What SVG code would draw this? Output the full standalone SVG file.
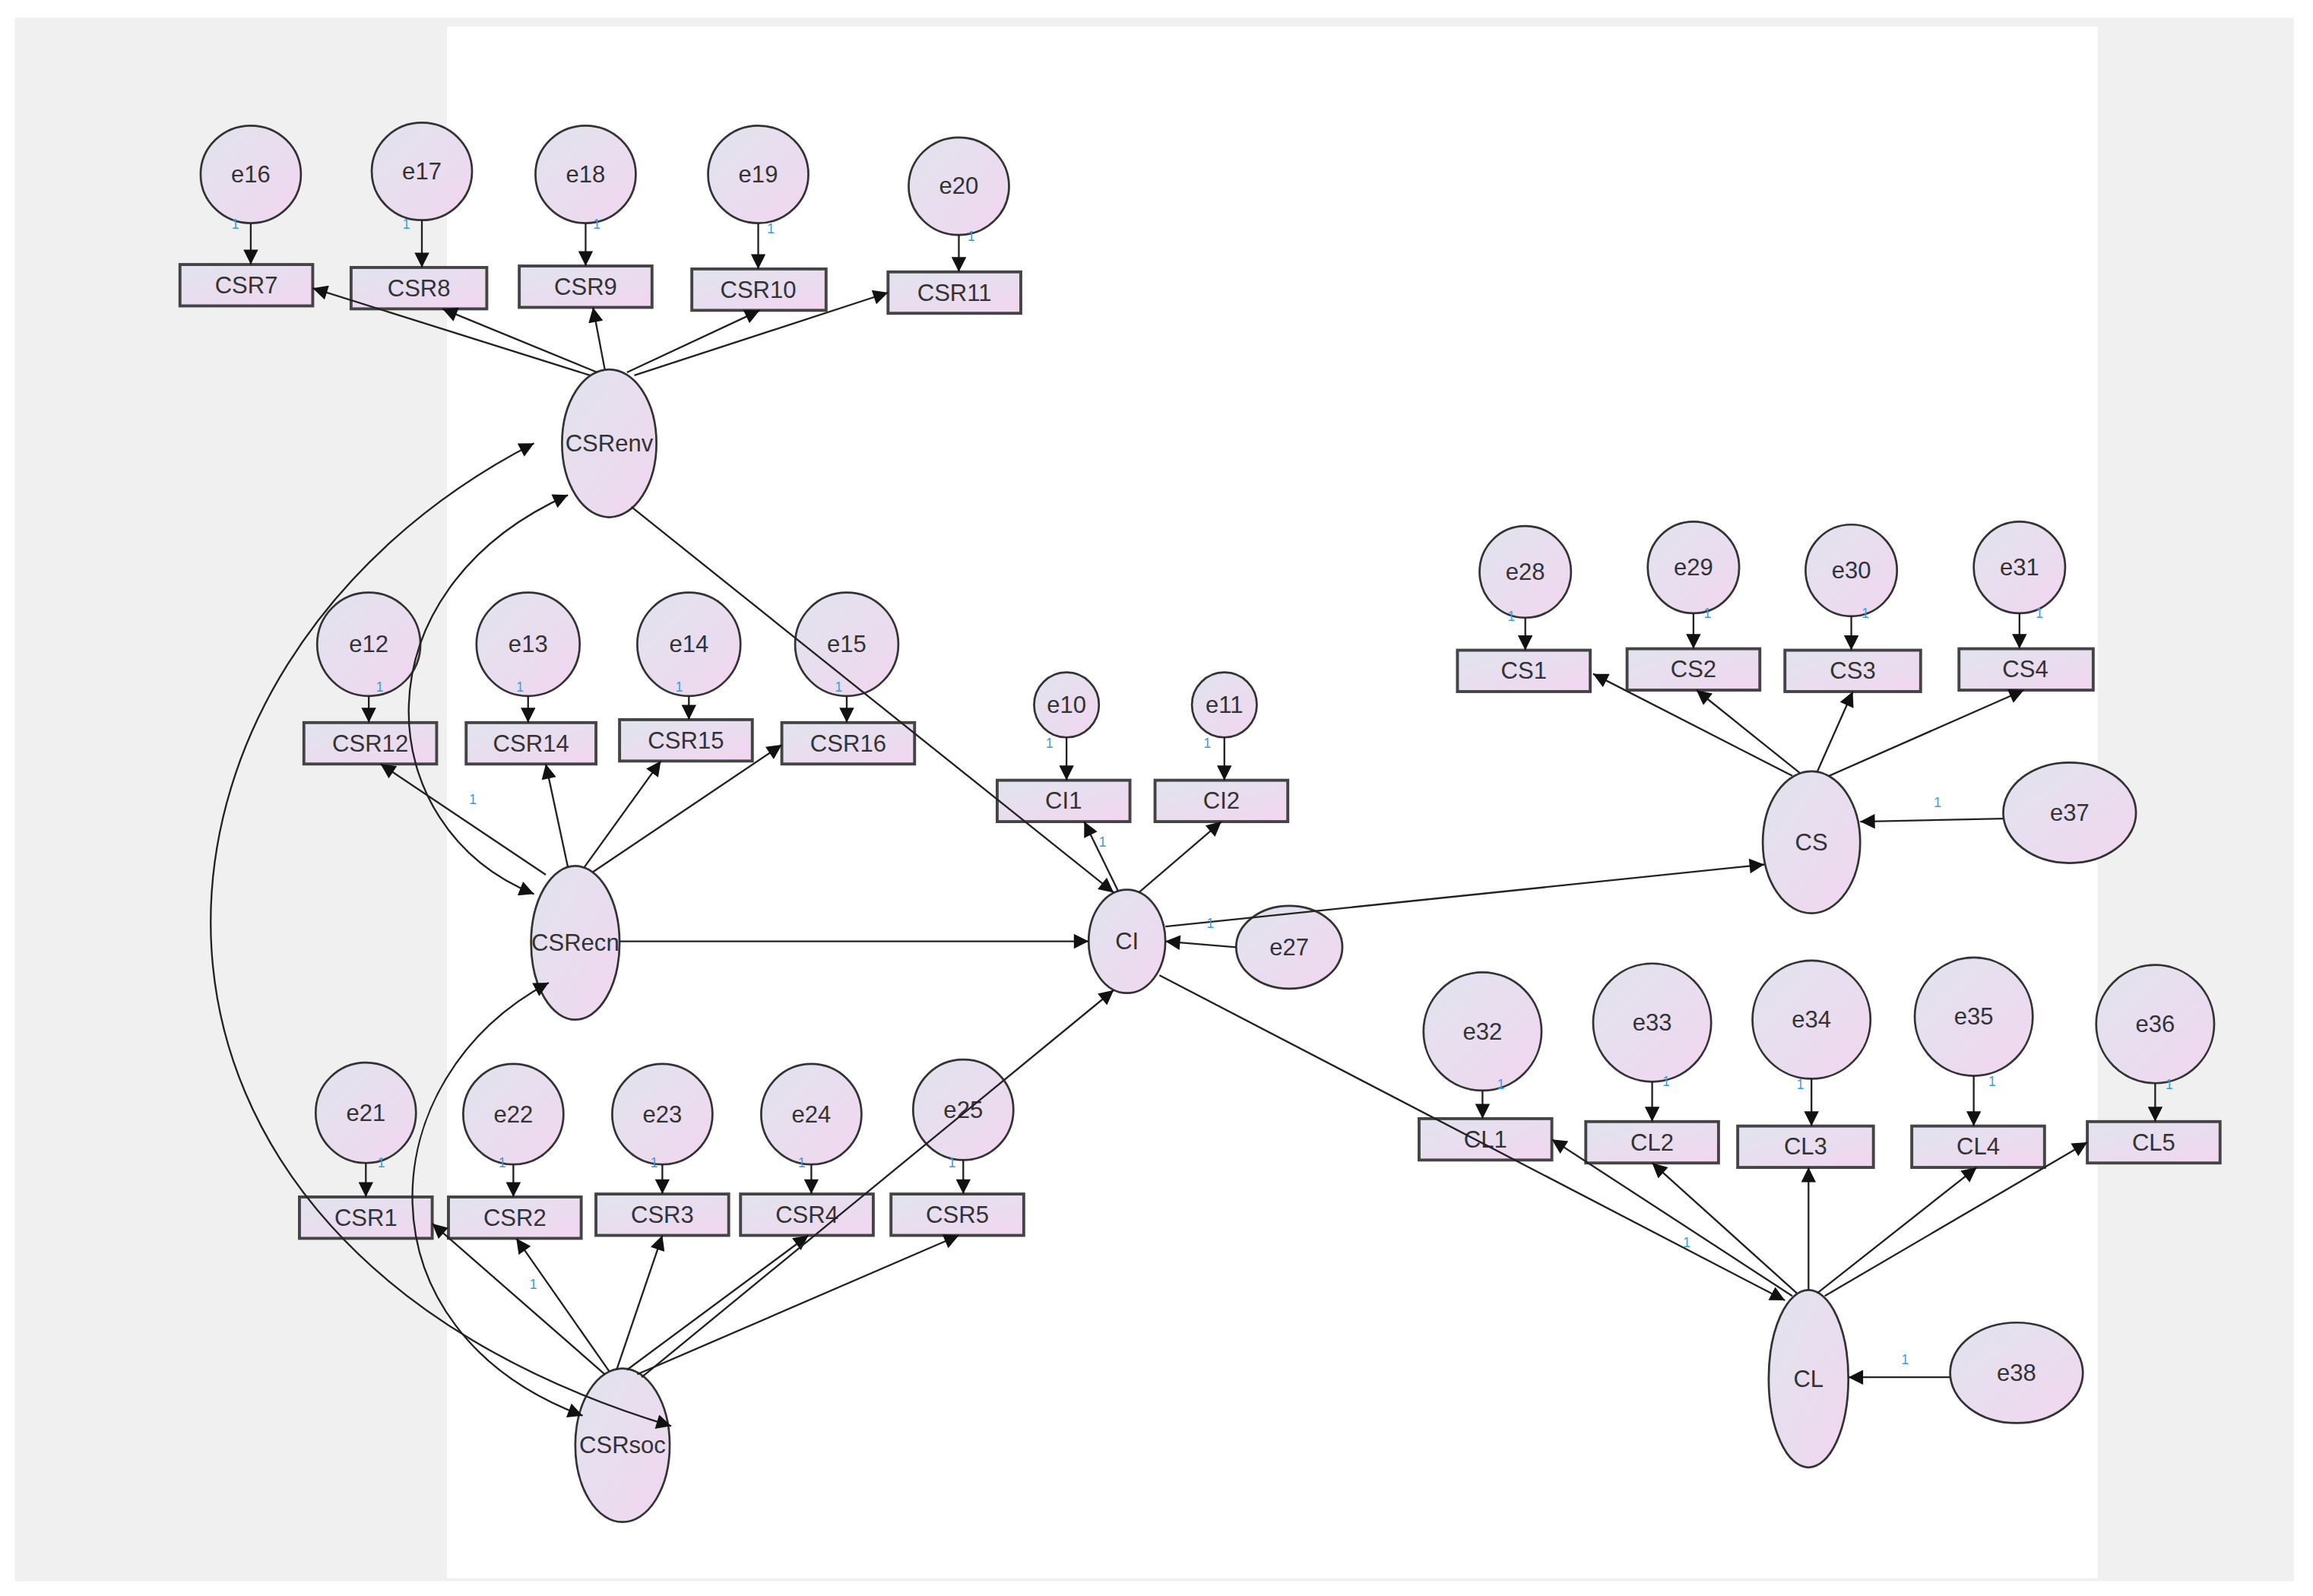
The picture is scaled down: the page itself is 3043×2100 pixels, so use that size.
<svg xmlns="http://www.w3.org/2000/svg" width="3043" height="2100" viewBox="0 0 3043 2100">
<defs>
<linearGradient id="g" x1="0" y1="0" x2="1" y2="1"><stop offset="0" stop-color="#e0e4ee"/><stop offset="1" stop-color="#f2d6f0"/></linearGradient>
<marker id="a" viewBox="0 0 10 10" refX="10" refY="5" markerWidth="16" markerHeight="10" orient="auto-start-reverse" markerUnits="userSpaceOnUse"><path d="M0,0 L10,5 L0,10 z" fill="#111"/></marker>
<style>
.n{fill:url(#g);stroke:#333;stroke-width:1.4}
.r{fill:url(#g);stroke:#444;stroke-width:2}
.t{font-family:"Liberation Sans",Arial,sans-serif;font-size:16px;fill:#333;text-anchor:middle;dominant-baseline:central}
.o{font-family:"Liberation Sans",Arial,sans-serif;font-size:9px;fill:#3a9be0}
.c path,.c line{stroke:#222;stroke-width:1.2;fill:none;marker-end:url(#a)}
.c .d{marker-start:url(#a)}
</style>
</defs>
<rect width="3043" height="2100" fill="#fff"/>
<g transform="scale(1.9407,1.9444)">
<rect x="10" y="12" width="1545" height="1058" fill="#f0f0f0"/>
<rect x="303" y="18" width="1119" height="1050" fill="#fff"/>
<g id="e16"><ellipse class="n" cx="170" cy="118" rx="34" ry="33"/><text class="t" x="170" y="118">e16</text></g>
<g id="e17"><ellipse class="n" cx="286" cy="116" rx="34" ry="33"/><text class="t" x="286" y="116">e17</text></g>
<g id="e18"><ellipse class="n" cx="397" cy="118" rx="34" ry="33"/><text class="t" x="397" y="118">e18</text></g>
<g id="e19"><ellipse class="n" cx="514" cy="118" rx="34" ry="33"/><text class="t" x="514" y="118">e19</text></g>
<g id="e20"><ellipse class="n" cx="650" cy="126" rx="34" ry="33"/><text class="t" x="650" y="126">e20</text></g>
<g id="CSR7"><rect class="r" x="122" y="179" width="90" height="28"/><text class="t" x="167" y="193">CSR7</text></g>
<g id="CSR8"><rect class="r" x="238" y="181" width="92" height="28"/><text class="t" x="284" y="195">CSR8</text></g>
<g id="CSR9"><rect class="r" x="352" y="180" width="90" height="28"/><text class="t" x="397" y="194">CSR9</text></g>
<g id="CSR10"><rect class="r" x="469" y="182" width="91" height="28"/><text class="t" x="514" y="196">CSR10</text></g>
<g id="CSR11"><rect class="r" x="602" y="184" width="90" height="28"/><text class="t" x="647" y="198">CSR11</text></g>
<g id="CSRenv"><ellipse class="n" cx="413" cy="300" rx="32" ry="50"/><text class="t" x="413" y="300">CSRenv</text></g>
<g id="e12"><ellipse class="n" cx="250" cy="436" rx="35" ry="35"/><text class="t" x="250" y="436">e12</text></g>
<g id="e13"><ellipse class="n" cx="358" cy="436" rx="35" ry="35"/><text class="t" x="358" y="436">e13</text></g>
<g id="e14"><ellipse class="n" cx="467" cy="436" rx="35" ry="35"/><text class="t" x="467" y="436">e14</text></g>
<g id="e15"><ellipse class="n" cx="574" cy="436" rx="35" ry="35"/><text class="t" x="574" y="436">e15</text></g>
<g id="CSR12"><rect class="r" x="206" y="489" width="90" height="28"/><text class="t" x="251" y="503">CSR12</text></g>
<g id="CSR14"><rect class="r" x="316" y="489" width="88" height="28"/><text class="t" x="360" y="503">CSR14</text></g>
<g id="CSR15"><rect class="r" x="420" y="487" width="90" height="28"/><text class="t" x="465" y="501">CSR15</text></g>
<g id="CSR16"><rect class="r" x="530" y="489" width="90" height="28"/><text class="t" x="575" y="503">CSR16</text></g>
<g id="CSRecn"><ellipse class="n" cx="390" cy="638" rx="30" ry="52"/><text class="t" x="390" y="638">CSRecn</text></g>
<g id="e10"><ellipse class="n" cx="723" cy="477" rx="22" ry="22"/><text class="t" x="723" y="477">e10</text></g>
<g id="e11"><ellipse class="n" cx="830" cy="477" rx="22" ry="22"/><text class="t" x="830" y="477">e11</text></g>
<g id="CI1"><rect class="r" x="676" y="528" width="90" height="28"/><text class="t" x="721" y="542">CI1</text></g>
<g id="CI2"><rect class="r" x="783" y="528" width="90" height="28"/><text class="t" x="828" y="542">CI2</text></g>
<g id="CI"><ellipse class="n" cx="764" cy="637" rx="26" ry="35"/><text class="t" x="764" y="637">CI</text></g>
<g id="e27"><ellipse class="n" cx="874" cy="641" rx="36" ry="28"/><text class="t" x="874" y="641">e27</text></g>
<g id="e28"><ellipse class="n" cx="1034" cy="387" rx="31" ry="31"/><text class="t" x="1034" y="387">e28</text></g>
<g id="e29"><ellipse class="n" cx="1148" cy="384" rx="31" ry="31"/><text class="t" x="1148" y="384">e29</text></g>
<g id="e30"><ellipse class="n" cx="1255" cy="386" rx="31" ry="31"/><text class="t" x="1255" y="386">e30</text></g>
<g id="e31"><ellipse class="n" cx="1369" cy="384" rx="31" ry="31"/><text class="t" x="1369" y="384">e31</text></g>
<g id="CS1"><rect class="r" x="988" y="440" width="90" height="28"/><text class="t" x="1033" y="454">CS1</text></g>
<g id="CS2"><rect class="r" x="1103" y="439" width="90" height="28"/><text class="t" x="1148" y="453">CS2</text></g>
<g id="CS3"><rect class="r" x="1210" y="440" width="92" height="28"/><text class="t" x="1256" y="454">CS3</text></g>
<g id="CS4"><rect class="r" x="1328" y="439" width="91" height="28"/><text class="t" x="1373" y="453">CS4</text></g>
<g id="CS"><ellipse class="n" cx="1228" cy="570" rx="33" ry="48"/><text class="t" x="1228" y="570">CS</text></g>
<g id="e37"><ellipse class="n" cx="1403" cy="550" rx="45" ry="34"/><text class="t" x="1403" y="550">e37</text></g>
<g id="e32"><ellipse class="n" cx="1005" cy="698" rx="40" ry="40"/><text class="t" x="1005" y="698">e32</text></g>
<g id="e33"><ellipse class="n" cx="1120" cy="692" rx="40" ry="40"/><text class="t" x="1120" y="692">e33</text></g>
<g id="e34"><ellipse class="n" cx="1228" cy="690" rx="40" ry="40"/><text class="t" x="1228" y="690">e34</text></g>
<g id="e35"><ellipse class="n" cx="1338" cy="688" rx="40" ry="40"/><text class="t" x="1338" y="688">e35</text></g>
<g id="e36"><ellipse class="n" cx="1461" cy="693" rx="40" ry="40"/><text class="t" x="1461" y="693">e36</text></g>
<g id="CL1"><rect class="r" x="962" y="757" width="90" height="28"/><text class="t" x="1007" y="771">CL1</text></g>
<g id="CL2"><rect class="r" x="1075" y="759" width="90" height="28"/><text class="t" x="1120" y="773">CL2</text></g>
<g id="CL3"><rect class="r" x="1178" y="762" width="92" height="28"/><text class="t" x="1224" y="776">CL3</text></g>
<g id="CL4"><rect class="r" x="1296" y="762" width="90" height="28"/><text class="t" x="1341" y="776">CL4</text></g>
<g id="CL5"><rect class="r" x="1415" y="759" width="90" height="28"/><text class="t" x="1460" y="773">CL5</text></g>
<g id="CL"><ellipse class="n" cx="1226" cy="933" rx="27" ry="60"/><text class="t" x="1226" y="933">CL</text></g>
<g id="e38"><ellipse class="n" cx="1367" cy="929" rx="45" ry="34"/><text class="t" x="1367" y="929">e38</text></g>
<g id="e21"><ellipse class="n" cx="248" cy="753" rx="34" ry="34"/><text class="t" x="248" y="753">e21</text></g>
<g id="e22"><ellipse class="n" cx="348" cy="754" rx="34" ry="34"/><text class="t" x="348" y="754">e22</text></g>
<g id="e23"><ellipse class="n" cx="449" cy="754" rx="34" ry="34"/><text class="t" x="449" y="754">e23</text></g>
<g id="e24"><ellipse class="n" cx="550" cy="754" rx="34" ry="34"/><text class="t" x="550" y="754">e24</text></g>
<g id="e25"><ellipse class="n" cx="653" cy="751" rx="34" ry="34"/><text class="t" x="653" y="751">e25</text></g>
<g id="CSR1"><rect class="r" x="203" y="810" width="90" height="28"/><text class="t" x="248" y="824">CSR1</text></g>
<g id="CSR2"><rect class="r" x="304" y="810" width="90" height="28"/><text class="t" x="349" y="824">CSR2</text></g>
<g id="CSR3"><rect class="r" x="404" y="808" width="90" height="28"/><text class="t" x="449" y="822">CSR3</text></g>
<g id="CSR4"><rect class="r" x="502" y="808" width="90" height="28"/><text class="t" x="547" y="822">CSR4</text></g>
<g id="CSR5"><rect class="r" x="604" y="808" width="90" height="28"/><text class="t" x="649" y="822">CSR5</text></g>
<g id="CSRsoc"><ellipse class="n" cx="422" cy="978" rx="32" ry="52"/><text class="t" x="422" y="978">CSRsoc</text></g>
<g class="c">
<line x1="170" y1="151" x2="170" y2="179"/><line x1="286" y1="149" x2="286" y2="181"/><line x1="397" y1="151" x2="397" y2="180"/><line x1="514" y1="151" x2="514" y2="182"/><line x1="650" y1="159" x2="650" y2="184"/>
<line x1="250" y1="471" x2="250" y2="489"/><line x1="358" y1="471" x2="358" y2="489"/><line x1="467" y1="471" x2="467" y2="487"/><line x1="574" y1="471" x2="574" y2="489"/>
<line x1="723" y1="499" x2="723" y2="528"/><line x1="830" y1="499" x2="830" y2="528"/>
<line x1="1034" y1="418" x2="1034" y2="440"/><line x1="1148" y1="415" x2="1148" y2="439"/><line x1="1255" y1="417" x2="1255" y2="440"/><line x1="1369" y1="415" x2="1369" y2="439"/>
<line x1="1005" y1="738" x2="1005" y2="757"/><line x1="1120" y1="732" x2="1120" y2="759"/><line x1="1228" y1="730" x2="1228" y2="762"/><line x1="1338" y1="728" x2="1338" y2="762"/><line x1="1461" y1="733" x2="1461" y2="759"/>
<line x1="248" y1="787" x2="248" y2="810"/><line x1="348" y1="788" x2="348" y2="810"/><line x1="449" y1="788" x2="449" y2="808"/><line x1="550" y1="788" x2="550" y2="808"/><line x1="653" y1="785" x2="653" y2="808"/>
<line x1="838" y1="641" x2="790" y2="637"/><line x1="1358" y1="554" x2="1261" y2="556"/><line x1="1322" y1="932" x2="1253" y2="932"/>
<line x1="400" y1="254" x2="212" y2="195"/><line x1="405" y1="252" x2="300" y2="209"/><line x1="410" y1="250" x2="402" y2="208"/><line x1="425" y1="252" x2="515" y2="210"/><line x1="430" y1="254" x2="602" y2="198"/>
<line x1="428" y1="343" x2="755" y2="604"/>
<line x1="370" y1="592" x2="258" y2="517"/><line x1="385" y1="587" x2="370" y2="517"/><line x1="396" y1="587" x2="448" y2="515"/><line x1="402" y1="590" x2="530" y2="504"/>
<line x1="420" y1="637" x2="738" y2="637"/>
<line x1="410" y1="930" x2="293" y2="828"/><line x1="413" y1="928" x2="350" y2="838"/><line x1="418" y1="927" x2="449" y2="836"/><line x1="425" y1="927" x2="548" y2="836"/><line x1="432" y1="930" x2="650" y2="836"/>
<line x1="435" y1="932" x2="755" y2="670"/>
<line x1="758" y1="603" x2="735" y2="556"/><line x1="772" y1="604" x2="828" y2="556"/>
<line x1="790" y1="627" x2="1196" y2="585"/><line x1="786" y1="660" x2="1210" y2="880"/>
<line x1="1215" y1="525" x2="1080" y2="456"/><line x1="1220" y1="523" x2="1150" y2="467"/><line x1="1232" y1="522" x2="1256" y2="468"/><line x1="1240" y1="525" x2="1372" y2="467"/>
<line x1="1215" y1="877" x2="1052" y2="771"/><line x1="1218" y1="875" x2="1120" y2="787"/><line x1="1226" y1="873" x2="1226" y2="790"/><line x1="1232" y1="875" x2="1340" y2="790"/><line x1="1237" y1="877" x2="1415" y2="773"/>
<path class="d" d="M455,965 C40,840 70,450 362,300"/>
<path class="d" d="M362,605 C250,560 240,400 385,335"/>
<path class="d" d="M372,665 C250,730 240,900 395,958"/>
</g>
<g class="o">
<text x="157" y="155">1</text><text x="273" y="155">1</text><text x="402" y="155">1</text><text x="520" y="158">1</text><text x="656" y="163">1</text>
<text x="255" y="468">1</text><text x="350" y="468">1</text><text x="458" y="468">1</text><text x="566" y="468">1</text><text x="318" y="544">1</text>
<text x="709" y="506">1</text><text x="816" y="506">1</text><text x="745" y="573">1</text><text x="818" y="628">1</text>
<text x="1022" y="420">1</text><text x="1155" y="418">1</text><text x="1262" y="418">1</text><text x="1380" y="418">1</text><text x="1311" y="546">1</text>
<text x="1015" y="737">1</text><text x="1127" y="735">1</text><text x="1218" y="737">1</text><text x="1348" y="735">1</text><text x="1468" y="737">1</text><text x="1141" y="844">1</text><text x="1289" y="923">1</text>
<text x="256" y="790">1</text><text x="338" y="790">1</text><text x="441" y="790">1</text><text x="541" y="790">1</text><text x="643" y="790">1</text><text x="359" y="872">1</text>
</g>
</g>
</svg>
